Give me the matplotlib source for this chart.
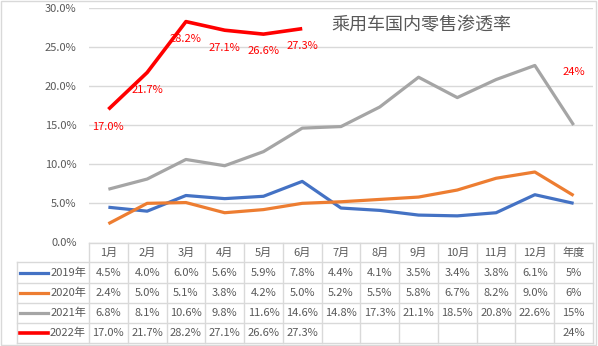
import numpy as np
import matplotlib
matplotlib.use("Agg")
import matplotlib.pyplot as plt
from matplotlib.lines import Line2D
from matplotlib.patches import Rectangle

plt.rcParams['font.family'] = ['Noto Sans CJK SC', 'DejaVu Sans']

# ---- data ----
categories = ["1月", "2月", "3月", "4月", "5月", "6月", "7月", "8月", "9月",
              "10月", "11月", "12月", "年度"]
series_names = ["2019年", "2020年", "2021年", "2022年"]
s2019 = [4.5, 4.0, 6.0, 5.6, 5.9, 7.8, 4.4, 4.1, 3.5, 3.4, 3.8, 6.1, 5]
s2020 = [2.4, 5.0, 5.1, 3.8, 4.2, 5.0, 5.2, 5.5, 5.8, 6.7, 8.2, 9.0, 6]
s2021 = [6.8, 8.1, 10.6, 9.8, 11.6, 14.6, 14.8, 17.3, 21.1, 18.5, 20.8, 22.6, 15]
s2022 = [17.0, 21.7, 28.2, 27.1, 26.6, 27.3, None, None, None, None, None, None, 24]
table_text = [
    ["4.5%", "4.0%", "6.0%", "5.6%", "5.9%", "7.8%", "4.4%", "4.1%", "3.5%", "3.4%", "3.8%", "6.1%", "5%"],
    ["2.4%", "5.0%", "5.1%", "3.8%", "4.2%", "5.0%", "5.2%", "5.5%", "5.8%", "6.7%", "8.2%", "9.0%", "6%"],
    ["6.8%", "8.1%", "10.6%", "9.8%", "11.6%", "14.6%", "14.8%", "17.3%", "21.1%", "18.5%", "20.8%", "22.6%", "15%"],
    ["17.0%", "21.7%", "28.2%", "27.1%", "26.6%", "27.3%", "", "", "", "", "", "", "24%"],
]
label_2022 = ["17.0%", "21.7%", "28.2%", "27.1%", "26.6%", "27.3%", "", "", "", "", "", "", "24%"]
colors = ["#4472C4", "#ED7D31", "#A5A5A5", "#FF0000"]
widths = [2.3, 2.3, 2.3, 2.6]
title = "乘用车国内零售渗透率"

W, H = 598, 346
TXT = "#595959"
GRID = "#D9D9D9"

fig = plt.figure(figsize=(W / 100, H / 100), dpi=100)
fig.patch.set_facecolor("white")

# plot area in pixel geometry
px_left, px_right = 89, 593
px_top, px_bottom = 7.5, 242.5
ax = fig.add_axes([px_left / W, 1 - px_bottom / H,
                   (px_right - px_left) / W, (px_bottom - px_top) / H])
n = len(categories)
x = np.arange(n)
ax.set_xlim(-0.5, n - 0.5)
ax.set_ylim(0, 30)
ax.set_yticks(np.arange(0, 31, 5))
ax.set_yticklabels([f"{v:.1f}%" for v in np.arange(0, 31, 5)], color=TXT, fontsize=8)
ax.tick_params(axis="y", length=0, pad=9)
ax.tick_params(axis="x", bottom=False, labelbottom=False)
for sp in ax.spines.values():
    sp.set_visible(False)
ax.grid(axis="y", color=GRID, linewidth=1)
ax.set_axisbelow(True)

all_series = [s2019, s2020, s2021, s2022]
for vals, c, lw in zip(all_series, colors, widths):
    y = np.array([np.nan if v is None else v for v in vals], dtype=float)
    ax.plot(x, y, color=c, linewidth=lw, solid_capstyle="butt", zorder=3)

# data labels for 2022, placed below each point
y22 = [np.nan if v is None else v for v in s2022]
for xi, yi, lab in zip(x, y22, label_2022):
    if lab:
        ax.annotate(lab, (xi, yi), xytext=(0, -12.5), textcoords="offset points",
                    ha="center", va="center", color="#FF0000", fontsize=8, zorder=4)

ax.text(0.659, 0.925, title, transform=ax.transAxes, ha="center", va="center",
        fontsize=13, color=TXT)

# ---- data table below the plot ----
tax = fig.add_axes([0, 0, 1, 1])
tax.set_xlim(0, W)
tax.set_ylim(H, 0)
tax.axis("off")

col_w = (px_right - px_left) / n
rows_y = [243, 262, 283, 303, 323, 343]
left_x = 17

def hline(y0, x0, x1):
    tax.add_line(Line2D([x0, x1], [y0, y0], color=GRID, linewidth=1))

def vline(xp, y0, y1):
    tax.add_line(Line2D([xp, xp], [y0, y1], color=GRID, linewidth=1))

hline(rows_y[0], px_left, px_right)
for yv in rows_y[1:]:
    hline(yv, left_x, px_right)
vline(left_x, rows_y[1], rows_y[-1])
for k in range(n + 1):
    vline(px_left + k * col_w, rows_y[0], rows_y[-1])

# header row
for k, cat in enumerate(categories):
    tax.text(px_left + (k + 0.5) * col_w, (rows_y[0] + rows_y[1]) / 2, cat,
             ha="center", va="center", fontsize=8, color=TXT)

# series rows with legend keys
for r, (name, c, lw) in enumerate(zip(series_names, colors, widths)):
    yc = (rows_y[r + 1] + rows_y[r + 2]) / 2
    tax.add_line(Line2D([20, 48], [yc, yc], color=c, linewidth=lw))
    tax.text(86, yc, name, ha="right", va="center", fontsize=8, color=TXT)
    for k, t in enumerate(table_text[r]):
        if t:
            tax.text(px_left + (k + 0.5) * col_w, yc, t, ha="center", va="center",
                     fontsize=8, color=TXT)

# outer frame
tax.add_patch(Rectangle((0.5, 0.5), W - 2.5, H - 1.5, fill=False,
                        edgecolor=GRID, linewidth=1))

fig.savefig("out.png", dpi=100, facecolor="white")
